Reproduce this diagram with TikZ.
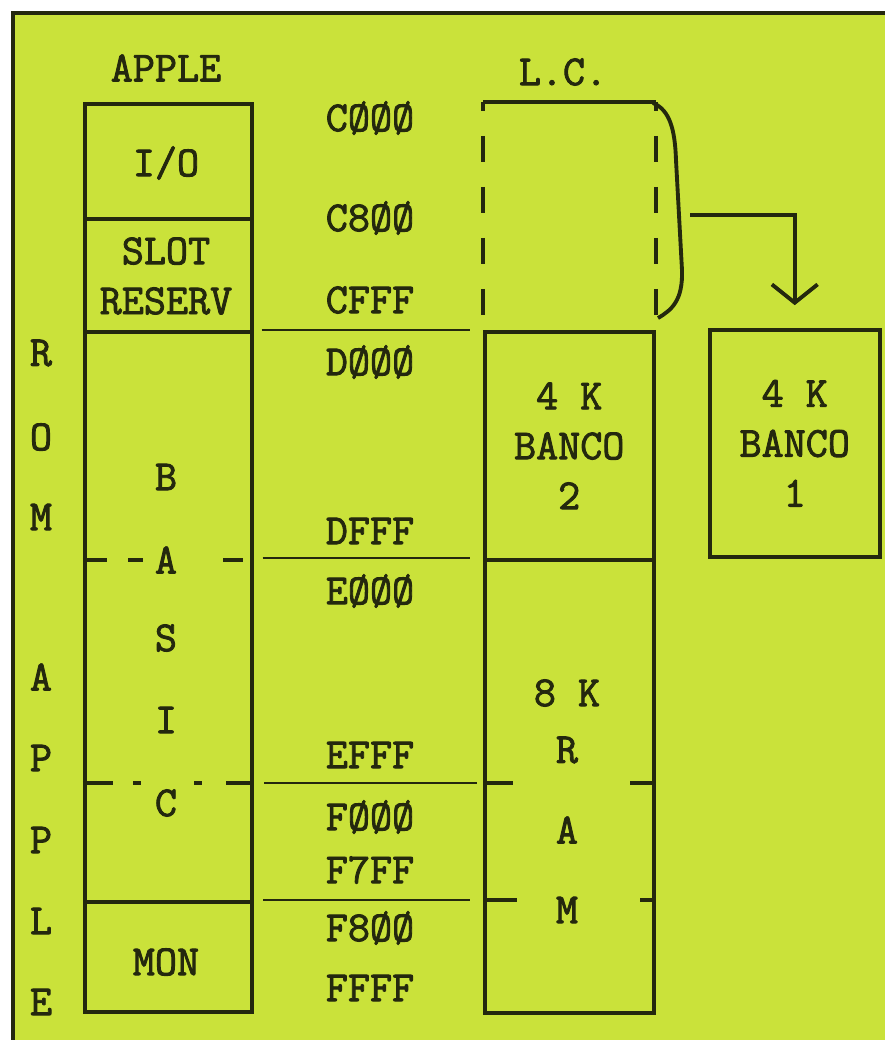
\documentclass[tikz,border=0pt]{standalone}
\usepackage{fontspec}
\newfontfamily\typefont{Latin Modern Mono}[AutoFakeBold=2]
\usetikzlibrary{positioning,arrows.meta}
\definecolor{pagelime}{RGB}{202,226,58}
\definecolor{ink}{RGB}{36,40,14}
\tikzset{
  membox/.style={draw=ink,line width=1pt,inner sep=0pt,anchor=north west,align=center},
  lbl/.style={text=ink,inner sep=1pt,font=\fontsize{12.2}{14.2}\selectfont\typefont\bfseries},
  gapline/.style={draw=ink,line width=0.75pt},
  stub/.style={draw=ink,line width=1.1pt},
  lcdash/.style={draw=ink,line width=1.1pt,dash pattern=on 7.4pt off 7.1pt,dash phase=4.84pt}
}
\begin{document}
\begin{tikzpicture}[x=0.1mm,y=-0.1mm]
\useasboundingbox (0,0) rectangle (885,1040);
\fill[pagelime] (13,13) rectangle (885,1040);
\draw[ink,line width=1.1pt] (13,1040)--(13,13)--(885,13);

\node[lbl] (applehd) at (166,68) {APPLE};
\node[lbl] (lchd) at (563,72) {L.C.};

\node[membox,minimum width=16.7mm,minimum height=11.5mm] (io) at (83,102) {};
\node[membox,minimum width=16.7mm,minimum height=11.3mm] (slot) at (83,217) {};
\node[membox,minimum width=16.7mm,minimum height=57mm] (basic) at (83,330) {};
\node[membox,minimum width=16.7mm,minimum height=11mm] (mon) at (83,900) {};
\node[lbl] (iotxt) at (166,163) {I/O};
\node[lbl,align=center] (slottxt) at (166,276) {SLOT\\RESERV};
\node[lbl] (montxt) at (166,962) {MON};
\foreach \ch/\yy [count=\i] in {B/477,A/560,S/638,I/720,C/803}
  \node[lbl] (basic\i) at (166,\yy) {\ch};
\foreach \ch/\yy [count=\i] in {R/353,O/437,M/517,A/677,P/758,P/840,L/921,E/1002}
  \node[lbl] (rom\i) at (41,\yy) {\ch};

\draw[stub] (83,560)--(107,560) (128,560)--(143,560) (223,560)--(243,560);
\draw[stub] (83,783)--(113,783) (133,783)--(141,783) (194,783)--(202,783) (226,783)--(250,783);

\foreach \txt/\yy [count=\i] in {CØØØ/118,C8ØØ/218,CFFF/300,DØØØ/362,DFFF/531,EØØØ/591,EFFF/755,FØØØ/817,F7FF/870,F8ØØ/928,FFFF/988}
  \node[lbl] (addr\i) at (370,\yy) {\txt};

\node[inner sep=0pt,anchor=north west,minimum width=17.2mm,minimum height=22mm] (lcbox) at (483,102) {};
\draw[ink,line width=1.1pt] (lcbox.north west)--(lcbox.north east);
\draw[lcdash] (lcbox.north west)--++(0,220);
\draw[lcdash] (lcbox.north east)--++(0,218);

\node[membox,lbl,minimum width=16.9mm,minimum height=22.8mm] (bank2) at (483,330) {4 K\\BANCO\\2};
\node[membox,minimum width=16.9mm,minimum height=45.3mm] (ram) at (483,558) {};
\node[membox,lbl,minimum width=17mm,minimum height=22.7mm] (bank1) at (708,328) {4 K\\BANCO\\1};
\foreach \ch/\yy [count=\i] in {8 K/693,R/750,A/830,M/910}
  \node[lbl] (ram\i) at (567,\yy) {\ch};

\coordinate (cutC) at (250,783);
\draw[gapline,shorten <=2.3pt,shorten >=3.7pt] (basic.north east)--(bank2.north west);
\draw[gapline,shorten <=2.6pt,shorten >=3.8pt] (basic.east |- ram.north)--(ram.north west);
\draw[gapline,shorten <=4pt,shorten >=1.7pt] (cutC)--(cutC -| ram.west);
\draw[gapline,shorten <=2.8pt,shorten >=3.7pt] (mon.north east)--(mon.north east -| ram.west);
\draw[stub] (ram.west |- cutC)--++(30,0) (ram.east |- cutC)--++(-26,0);
\draw[stub] (ram.west |- mon.north)--++(34,0) (ram.east |- mon.north)--++(-16,0);

\draw[ink,line width=1.1pt] (653,103) .. controls (670,110) and (675,130) .. (676,160) -- (682,270) .. controls (683,300) and (672,310) .. (658,318);
\coordinate (brtip) at (690,215);
\draw[ink,line width=1.1pt,-{Straight Barb[length=5.2pt,width=13pt]}] (brtip)--(bank1.north |- brtip)--([yshift=6.5pt]bank1.north);
\end{tikzpicture}
\end{document}
